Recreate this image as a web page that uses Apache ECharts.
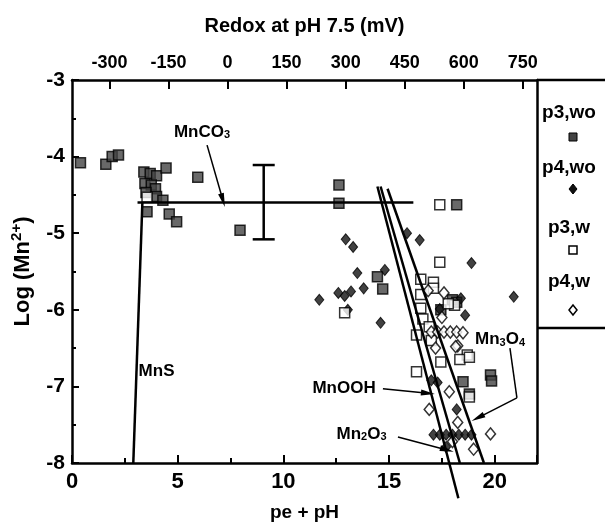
<!DOCTYPE html>
<html>
<head>
<meta charset="utf-8">
<script src="https://cdn.jsdelivr.net/npm/echarts@6/dist/echarts.min.js"></script>
<style>
  html, body { margin: 0; padding: 0; background: #fff; }
  #chart { width: 605px; height: 524px; }
</style>
</head>
<body>
<div id="chart"></div>
<script>
// p3,wo - filled squares
const p3wo = [
    [0.4, -4.08], [1.6, -4.1], [1.9, -4.0], [2.2, -3.98],
    [3.4, -4.2], [3.7, -4.22], [4.0, -4.25], [3.45, -4.35], [3.75, -4.37], [3.95, -4.42], [3.5, -4.47],
    [4.45, -4.15], [5.95, -4.27], [4.0, -4.52], [4.3, -4.57], [3.55, -4.72], [4.6, -4.75], [4.95, -4.85],
    [7.95, -4.96], [12.63, -4.37], [12.63, -4.61], [18.2, -4.63], [14.45, -5.57], [14.7, -5.73],
    [18.0, -5.87], [18.2, -5.9], [17.45, -6.0], [19.8, -6.85], [19.85, -6.93], [18.5, -6.94], [18.8, -7.1]
];
// p4,wo - filled diamonds
const p4wo = [
    [11.7, -5.87], [12.95, -5.08], [13.3, -5.18], [15.85, -5.0], [16.45, -5.09], [18.9, -5.39],
    [13.5, -5.52], [14.8, -5.48], [13.8, -5.72], [12.6, -5.78], [12.9, -5.82], [13.2, -5.76],
    [13.05, -6.0], [14.6, -6.17], [20.9, -5.83], [18.6, -6.07], [18.4, -5.85], [17.4, -5.99],
    [17.0, -6.92], [17.3, -6.95], [18.2, -7.3], [17.1, -7.63], [17.4, -7.63], [17.7, -7.63],
    [18.0, -7.63], [18.3, -7.63], [18.6, -7.63], [18.9, -7.63], [17.7, -7.79]
];
// p3,w - open squares
const p3w = [
    [3.55, -4.53], [17.4, -4.63], [17.4, -5.38], [16.5, -5.6], [17.1, -5.64], [17.1, -5.72],
    [12.9, -6.04], [16.5, -5.8], [16.5, -5.98], [16.6, -6.12], [18.1, -5.94], [17.8, -5.92],
    [16.3, -6.33], [16.9, -6.22], [18.7, -6.59], [18.35, -6.65], [18.8, -6.62], [16.3, -6.81],
    [17.45, -6.68], [18.8, -7.14], [17.0, -6.4]
];
// p4,w - open diamonds
const p4w = [
    [17.6, -5.78], [16.85, -5.75], [17.0, -6.29], [17.3, -6.29], [17.6, -6.29], [17.9, -6.29],
    [18.2, -6.29], [18.25, -6.47], [17.2, -6.5], [18.15, -6.48], [17.85, -7.07], [16.9, -7.3],
    [18.25, -7.47], [19.8, -7.62], [19.0, -7.82], [18.0, -7.72], [17.5, -6.1], [18.5, -6.3]
];

// stability lines
const mnsLine = [[3.33, -4.6], [2.9, -8]];
const mnco3Line = [[3.1, -4.6], [16.15, -4.6]];
const steepLine1 = [[14.45, -4.39], [18.28, -8.46]];
const steepLine2 = [[14.6, -4.39], [18.35, -8]];
const steepLine3 = [[14.93, -4.42], [19.49, -8]];
// error bar: x, low, high
const errorBar = [[9.07, -5.08, -4.11]];

const redoxTicks = [-300, -150, 0, 150, 300, 450, 600, 750];
const legendNames = ['p3,wo', 'p4,wo', 'p3,w', 'p4,w'];

const FONT = '"Liberation Sans", Arial, sans-serif';

const chart = echarts.init(document.getElementById('chart'));

function labelPoint(coord, name, rich) {
    return {
        coord: coord,
        symbolSize: 0,
        label: {
            show: true, position: 'inside', formatter: name,
            fontFamily: FONT, fontSize: 17, fontWeight: 'bold', color: '#000', rich: rich
        }
    };
}
const subRich = { sub: { fontFamily: FONT, fontSize: 11, fontWeight: 'bold', color: '#000', padding: [6, 0, 0, 0] } };

function arrow(a, b) {
    return [{ coord: a }, { coord: b }];
}

const option = {
    backgroundColor: '#fff',
    animation: false,
    grid: { left: 72, right: 68, top: 80, bottom: 61, outerBoundsMode: 'none', containLabel: false },
    xAxis: [
        {
            type: 'value', position: 'bottom', min: 0, max: 22, interval: 5,
            name: 'pe + pH', nameLocation: 'middle', nameGap: 40,
            nameTextStyle: { fontFamily: FONT, fontSize: 19, fontWeight: 'bold', color: '#000' },
            axisLine: { onZero: false, lineStyle: { color: '#000', width: 2.5 } },
            axisTick: { inside: true, length: 8, lineStyle: { color: '#000', width: 2 } },
            minorTick: { show: true, splitNumber: 2, length: 5, lineStyle: { color: '#000', width: 2 } },
            axisLabel: { fontFamily: FONT, fontSize: 22, fontWeight: 'bold', color: '#000', margin: 8, showMaxLabel: false },
            splitLine: { show: false }
        },
        {
            type: 'value', position: 'top', min: -395, max: 786,
            name: 'Redox at pH 7.5 (mV)', nameLocation: 'middle', nameGap: 44,
            nameTextStyle: { fontFamily: FONT, fontSize: 20, fontWeight: 'bold', color: '#000' },
            axisLine: { onZero: false, lineStyle: { color: '#000', width: 2.5 } },
            axisTick: { inside: true, length: 9, customValues: redoxTicks, lineStyle: { color: '#000', width: 2 } },
            axisLabel: { customValues: redoxTicks, fontFamily: FONT, fontSize: 18, fontWeight: 'bold', color: '#000', margin: 8 },
            splitLine: { show: false }
        }
    ],
    yAxis: [
        {
            type: 'value', min: -8, max: -3, interval: 1,
            name: 'Log (Mn{sup|2+})', nameLocation: 'middle', nameGap: 36, nameRotate: 90,
            nameTextStyle: {
                fontFamily: FONT, fontSize: 22, fontWeight: 'bold', color: '#000',
                rich: { sup: { fontFamily: FONT, fontSize: 15, fontWeight: 'bold', color: '#000', padding: [0, 0, 12, 0] } }
            },
            axisLine: { onZero: false, lineStyle: { color: '#000', width: 2.5 } },
            axisTick: { inside: true, length: 7, lineStyle: { color: '#000', width: 2 } },
            minorTick: { show: true, splitNumber: 2, length: 4, lineStyle: { color: '#000', width: 2 } },
            axisLabel: { fontFamily: FONT, fontSize: 21, fontWeight: 'bold', color: '#000', margin: 7 },
            splitLine: { show: false }
        },
        {
            type: 'value', position: 'right', min: -8, max: -3,
            axisLine: { show: true, onZero: false, lineStyle: { color: '#000', width: 2.5 } },
            axisTick: { show: false }, axisLabel: { show: false }, splitLine: { show: false }
        }
    ],
    series: [
        {
            type: 'line', data: mnco3Line, symbol: 'none', silent: true,
            lineStyle: { color: '#000', width: 2.5 },
            markPoint: { data: [labelPoint([6.15, -3.68], 'MnCO{sub|3}', subRich)] },
            markLine: {
                silent: true, symbol: ['none', 'triangle'], symbolSize: [6, 14],
                lineStyle: { color: '#000', width: 1.5, type: 'solid' }, label: { show: false },
                data: [arrow([6.39, -3.85], [7.14, -4.57])]
            }
        },
        {
            type: 'line', data: mnsLine, symbol: 'none', silent: true,
            lineStyle: { color: '#000', width: 2.5 },
            markPoint: { data: [labelPoint([4.0, -6.8], 'MnS', subRich)] }
        },
        {
            type: 'line', data: steepLine1, symbol: 'none', silent: true, clip: false,
            lineStyle: { color: '#000', width: 2.5 },
            markPoint: { data: [labelPoint([13.7, -7.62], 'Mn{sub|2}O{sub|3}', subRich)] },
            markLine: {
                silent: true, symbol: ['none', 'triangle'], symbolSize: [6, 14],
                lineStyle: { color: '#000', width: 1.5, type: 'solid' }, label: { show: false },
                data: [arrow([15.42, -7.66], [17.74, -7.83])]
            }
        },
        {
            type: 'line', data: steepLine2, symbol: 'none', silent: true,
            lineStyle: { color: '#000', width: 2.5 },
            markPoint: { data: [labelPoint([12.87, -7.02], 'MnOOH', subRich)] },
            markLine: {
                silent: true, symbol: ['none', 'triangle'], symbolSize: [6, 14],
                lineStyle: { color: '#000', width: 1.5, type: 'solid' }, label: { show: false },
                data: [arrow([14.71, -7.03], [16.84, -7.09])]
            }
        },
        {
            type: 'line', data: steepLine3, symbol: 'none', silent: true,
            lineStyle: { color: '#000', width: 2.5 },
            markPoint: { data: [labelPoint([20.25, -6.39], 'Mn{sub|3}O{sub|4}', subRich)] },
            markLine: {
                silent: true, symbol: ['none', 'none'],
                lineStyle: { color: '#000', width: 1.5, type: 'solid' }, label: { show: false },
                data: [arrow([20.72, -6.5], [21.05, -7.15])]
            }
        },
        {
            type: 'line', data: [[21.05, -7.15], [19.2, -7.41]], symbol: 'none', silent: true,
            lineStyle: { color: '#000', width: 0 },
            markLine: {
                silent: true, symbol: ['none', 'triangle'], symbolSize: [6, 14],
                lineStyle: { color: '#000', width: 1.5, type: 'solid' }, label: { show: false },
                data: [arrow([21.05, -7.15], [19.2, -7.41])]
            }
        },
        {
            type: 'custom', data: errorBar, silent: true,
            renderItem: function (params, api) {
                const x = api.value(0);
                const lo = api.coord([x, api.value(1)]);
                const hi = api.coord([x, api.value(2)]);
                const w = 11;
                const st = { stroke: '#000', lineWidth: 2.5 };
                return {
                    type: 'group',
                    children: [
                        { type: 'line', shape: { x1: lo[0], y1: lo[1], x2: hi[0], y2: hi[1] }, style: st },
                        { type: 'line', shape: { x1: lo[0] - w, y1: lo[1], x2: lo[0] + w, y2: lo[1] }, style: st },
                        { type: 'line', shape: { x1: hi[0] - w, y1: hi[1], x2: hi[0] + w, y2: hi[1] }, style: st }
                    ]
                };
            }
        },
        {
            name: 'p3,wo', type: 'scatter', data: p3wo, symbol: 'rect', symbolSize: 10,
            itemStyle: { color: '#444', borderColor: '#000', borderWidth: 1.5 }
        },
        {
            name: 'p4,wo', type: 'scatter', data: p4wo, symbol: 'diamond', symbolSize: [9, 11],
            itemStyle: { color: '#111', borderColor: '#000', borderWidth: 1 }
        },
        {
            name: 'p3,w', type: 'scatter', data: p3w, symbol: 'rect', symbolSize: 10,
            itemStyle: { color: '#fff', borderColor: '#000', borderWidth: 1.5 }
        },
        {
            name: 'p4,w', type: 'scatter', data: p4w, symbol: 'diamond', symbolSize: [10, 12],
            itemStyle: { color: '#fff', borderColor: '#000', borderWidth: 1.5 }
        }
    ],
    graphic: [
        { type: 'line', shape: { x1: 537, y1: 80, x2: 605, y2: 80 }, style: { stroke: '#000', lineWidth: 2.5 } },
        { type: 'line', shape: { x1: 537, y1: 328, x2: 605, y2: 328 }, style: { stroke: '#000', lineWidth: 2.5 } },
        { type: 'text', x: 569, y: 113, style: { text: legendNames[0], align: 'center', verticalAlign: 'middle', font: 'bold 19px ' + FONT, fill: '#000' } },
        { type: 'rect', shape: { x: 569, y: 133, width: 8, height: 8 }, style: { fill: '#444', stroke: '#000', lineWidth: 1 } },
        { type: 'text', x: 569, y: 168, style: { text: legendNames[1], align: 'center', verticalAlign: 'middle', font: 'bold 19px ' + FONT, fill: '#000' } },
        { type: 'polygon', shape: { points: [[573, 184], [577, 189], [573, 194], [569, 189]] }, style: { fill: '#111', stroke: '#000', lineWidth: 1 } },
        { type: 'text', x: 569, y: 228, style: { text: legendNames[2], align: 'center', verticalAlign: 'middle', font: 'bold 19px ' + FONT, fill: '#000' } },
        { type: 'rect', shape: { x: 569, y: 246, width: 8, height: 8 }, style: { fill: '#fff', stroke: '#000', lineWidth: 1.5 } },
        { type: 'text', x: 569, y: 282, style: { text: legendNames[3], align: 'center', verticalAlign: 'middle', font: 'bold 19px ' + FONT, fill: '#000' } },
        { type: 'polygon', shape: { points: [[573, 305], [577, 310], [573, 315], [569, 310]] }, style: { fill: '#fff', stroke: '#000', lineWidth: 1.5 } }
    ]
};
chart.setOption(option);
</script>
</body>
</html>
